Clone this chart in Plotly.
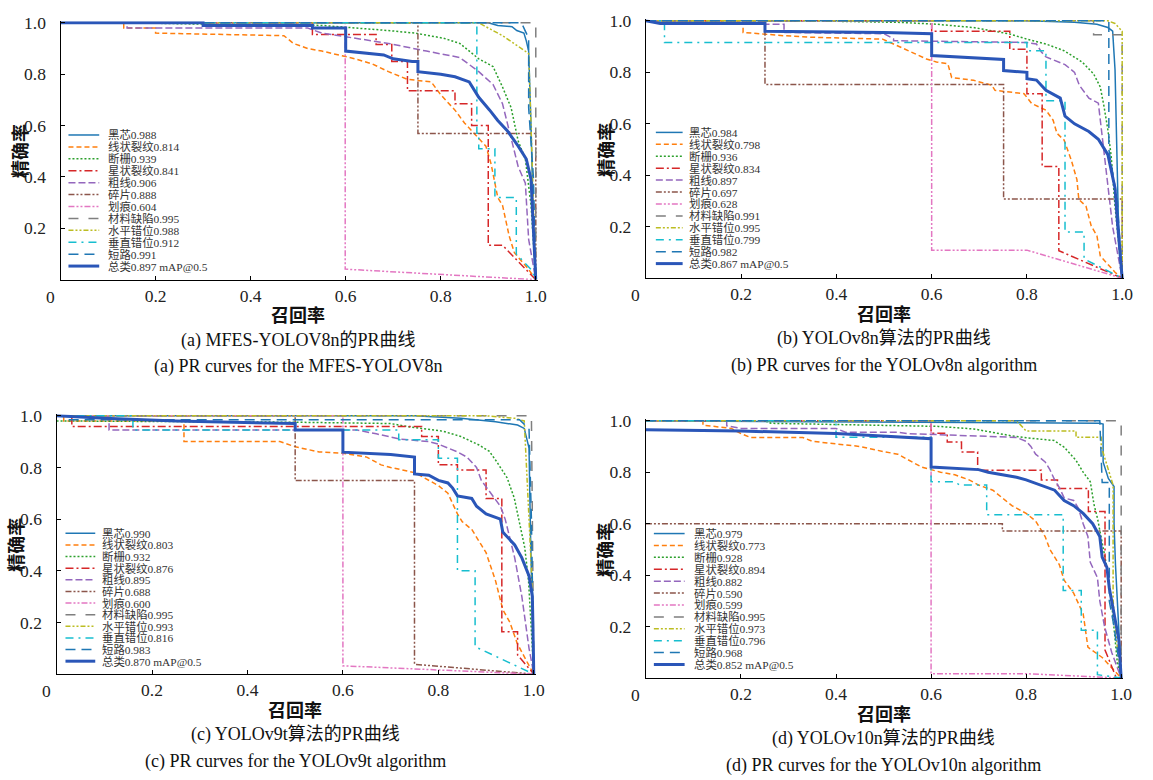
import plotly.graph_objects as go

W, H = 1153, 780

# ---------------- data ----------------
classes = ["黑芯", "线状裂纹", "断栅", "星状裂纹", "粗线", "碎片", "划痕",
           "材料缺陷", "水平错位", "垂直错位", "短路", "总类"]

ap_a = ["0.988", "0.814", "0.939", "0.841", "0.906", "0.888", "0.604", "0.995", "0.988", "0.912", "0.991", "0.897 mAP@0.5"]
ap_b = ["0.984", "0.798", "0.936", "0.834", "0.897", "0.697", "0.628", "0.991", "0.995", "0.799", "0.982", "0.867 mAP@0.5"]
ap_c = ["0.990", "0.803", "0.932", "0.876", "0.895", "0.688", "0.600", "0.995", "0.993", "0.816", "0.983", "0.870 mAP@0.5"]
ap_d = ["0.979", "0.773", "0.928", "0.894", "0.882", "0.590", "0.599", "0.995", "0.973", "0.796", "0.968", "0.852 mAP@0.5"]

recall_a = [
    [0, 0.9, 0.92, 0.95, 0.96, 0.975, 0.98, 0.985, 0.99, 0.995, 1.0],
    [0, 0.133, 0.133, 0.2, 0.2, 0.47, 0.49, 0.52, 0.55, 0.6, 0.62, 0.656, 0.69, 0.73, 0.78, 0.8, 0.83, 0.85, 0.87, 0.895, 0.906, 0.92, 0.93, 0.944, 0.955, 0.985, 1.0],
    [0, 0.15, 0.3, 0.55, 0.69, 0.746, 0.806, 0.84, 0.88, 0.91, 0.93, 0.948, 0.963, 0.978, 0.99, 1.0],
    [0, 0.53, 0.53, 0.664, 0.664, 0.697, 0.697, 0.73, 0.73, 0.83, 0.83, 0.865, 0.865, 0.9, 0.9, 0.93, 1.0],
    [0, 0.14, 0.14, 0.52, 0.55, 0.62, 0.69, 0.77, 0.84, 0.88, 0.91, 0.93, 0.948, 0.963, 0.978, 0.985, 1.0],
    [0, 0.752, 0.752, 1.0, 1.0],
    [0, 0.599, 0.599, 1.0],
    [0, 1.0, 1.0],
    [0, 0.88, 0.9, 0.93, 0.97, 0.985, 0.99, 0.995, 1.0],
    [0, 0.876, 0.876, 0.88, 0.88, 0.914, 0.914, 0.959, 0.959, 0.99, 1.0],
    [0, 0.97, 0.985, 0.985, 0.995, 1.0],
    [0, 0.3, 0.3, 0.53, 0.53, 0.6, 0.6, 0.68, 0.7, 0.74, 0.752, 0.752, 0.8, 0.83, 0.86, 0.88, 0.903, 0.92, 0.94, 0.963, 0.98, 0.99, 1.0],
]
precision_a = [
    [1, 1, 0.99, 0.985, 0.97, 0.96, 0.93, 0.89, 0.6, 0.2, 0],
    [1, 1, 0.98, 0.98, 0.96, 0.95, 0.92, 0.9, 0.89, 0.87, 0.86, 0.84, 0.81, 0.78, 0.77, 0.72, 0.66, 0.61, 0.57, 0.52, 0.45, 0.32, 0.29, 0.17, 0.105, 0.04, 0],
    [1, 1, 0.995, 0.99, 0.97, 0.96, 0.94, 0.92, 0.86, 0.83, 0.75, 0.67, 0.54, 0.47, 0.29, 0],
    [1, 1, 0.955, 0.955, 0.916, 0.916, 0.85, 0.85, 0.736, 0.736, 0.685, 0.685, 0.6, 0.6, 0.134, 0.134, 0],
    [1, 1, 0.98, 0.98, 0.96, 0.94, 0.92, 0.89, 0.865, 0.81, 0.76, 0.685, 0.556, 0.44, 0.376, 0.157, 0],
    [1, 1, 0.569, 0.569, 0],
    [1, 1, 0.041, 0],
    [1, 1, 0],
    [1, 1, 0.98, 0.95, 0.9, 0.88, 0.6, 0.3, 0],
    [1, 1, 0.57, 0.57, 0.51, 0.51, 0.32, 0.32, 0.1, 0.04, 0],
    [1, 1, 0.94, 0.67, 0.4, 0],
    [1, 1, 0.99, 0.99, 0.98, 0.98, 0.89, 0.875, 0.86, 0.85, 0.85, 0.81, 0.8, 0.79, 0.77, 0.71, 0.66, 0.62, 0.58, 0.52, 0.47, 0.39, 0],
]

recall_b = [
    [0, 0.8, 0.9, 0.947, 0.97, 0.98, 0.985, 0.989, 0.992, 1.0],
    [0, 0.204, 0.204, 0.292, 0.353, 0.497, 0.52, 0.55, 0.589, 0.61, 0.634, 0.642, 0.688, 0.726, 0.733, 0.794, 0.81, 0.84, 0.855, 0.863, 0.878, 0.893, 0.905, 0.909, 0.924, 0.935, 0.947, 0.954, 0.985, 1.0],
    [0, 0.35, 0.535, 0.61, 0.688, 0.764, 0.8, 0.84, 0.878, 0.916, 0.94, 0.954, 0.962, 0.97, 0.977, 0.985, 1.0],
    [0, 0.6, 0.6, 0.764, 0.764, 0.8, 0.8, 0.832, 0.832, 0.867, 0.867, 1.0],
    [0, 0.068, 0.068, 0.29, 0.29, 0.5, 0.52, 0.52, 0.8, 0.82, 0.83, 0.84, 0.88, 0.9, 0.91, 0.93, 0.95, 0.955, 0.965, 0.98, 1.0],
    [0, 0.25, 0.25, 0.751, 0.751, 1.0, 1.0],
    [0, 0.6, 0.6, 0.8, 1.0],
    [0, 0.94, 0.94, 1.0, 1.0],
    [0, 0.97, 0.985, 0.995, 1.0, 1.0],
    [0, 0.039, 0.039, 0.8, 0.8, 0.84, 0.84, 0.88, 0.88, 0.92, 0.92, 1.0],
    [0, 0.972, 0.972, 0.99, 1.0],
    [0, 0.03, 0.25, 0.25, 0.5, 0.58, 0.6, 0.6, 0.75, 0.751, 0.751, 0.8, 0.8, 0.82, 0.84, 0.87, 0.88, 0.9, 0.93, 0.95, 0.97, 0.98, 0.985, 0.99, 1.0],
]
precision_b = [
    [1, 1, 0.995, 0.987, 0.974, 0.96, 0.81, 0.47, 0.23, 0],
    [1, 1, 0.955, 0.942, 0.936, 0.929, 0.91, 0.884, 0.852, 0.84, 0.833, 0.78, 0.769, 0.75, 0.73, 0.717, 0.679, 0.653, 0.614, 0.563, 0.537, 0.46, 0.383, 0.306, 0.28, 0.203, 0.165, 0.087, 0.023, 0],
    [1, 1, 0.994, 0.987, 0.974, 0.949, 0.929, 0.91, 0.884, 0.84, 0.794, 0.743, 0.666, 0.576, 0.473, 0.28, 0],
    [1, 1, 0.96, 0.96, 0.89, 0.89, 0.717, 0.717, 0.434, 0.434, 0.107, 0],
    [1, 1, 0.987, 0.987, 0.955, 0.95, 0.93, 0.923, 0.916, 0.91, 0.88, 0.86, 0.83, 0.8, 0.75, 0.7, 0.68, 0.6, 0.45, 0.2, 0],
    [1, 1, 0.753, 0.753, 0.308, 0.308, 0],
    [1, 1, 0.109, 0.109, 0],
    [1, 1, 0.946, 0.946, 0],
    [1, 1, 0.99, 0.97, 0.96, 0],
    [1, 1, 0.916, 0.916, 0.884, 0.884, 0.69, 0.69, 0.18, 0.18, 0.075, 0],
    [1, 1, 0.5, 0.3, 0],
    [1, 0.99, 0.99, 0.96, 0.955, 0.95, 0.95, 0.865, 0.85, 0.85, 0.807, 0.8, 0.775, 0.77, 0.73, 0.7, 0.63, 0.6, 0.57, 0.54, 0.48, 0.4, 0.35, 0.22, 0],
]

recall_c = [
    [0, 0.75, 0.847, 0.92, 0.966, 0.98, 0.99, 0.993, 1.0],
    [0, 0.015, 0.015, 0.267, 0.267, 0.468, 0.5, 0.55, 0.6, 0.65, 0.68, 0.7, 0.75, 0.77, 0.8, 0.82, 0.84, 0.85, 0.87, 0.89, 0.9, 0.92, 0.935, 0.95, 0.965, 0.985, 1.0],
    [0, 0.5, 0.7, 0.736, 0.81, 0.847, 0.885, 0.907, 0.922, 0.944, 0.959, 0.97, 0.981, 0.989, 1.0],
    [0, 0.032, 0.032, 0.765, 0.765, 0.8, 0.8, 0.84, 0.84, 0.9, 0.9, 0.933, 0.933, 0.966, 0.966, 1.0],
    [0, 0.11, 0.11, 0.63, 0.67, 0.72, 0.78, 0.8, 0.84, 0.86, 0.88, 0.89, 0.91, 0.93, 0.94, 0.95, 0.96, 0.975, 0.99, 1.0],
    [0, 0.5, 0.5, 0.75, 0.75, 1.0],
    [0, 0.6, 0.6, 1.0],
    [0, 0.995, 1.0],
    [0, 0.9, 0.96, 0.98, 0.99, 0.995, 1.0],
    [0, 0.16, 0.16, 0.717, 0.717, 0.8, 0.8, 0.84, 0.84, 0.877, 0.877, 1.0],
    [0, 0.02, 0.02, 0.97, 0.99, 0.995, 1.0],
    [0, 0.1, 0.25, 0.45, 0.5, 0.5, 0.6, 0.6, 0.7, 0.75, 0.75, 0.78, 0.8, 0.82, 0.83, 0.84, 0.87, 0.88, 0.9, 0.93, 0.935, 0.96, 0.975, 0.99, 0.997, 1.0],
]
precision_c = [
    [1, 1, 0.99, 0.977, 0.964, 0.951, 0.875, 0.55, 0],
    [1, 1, 0.98, 0.98, 0.9, 0.9, 0.88, 0.86, 0.855, 0.84, 0.81, 0.8, 0.78, 0.76, 0.73, 0.7, 0.62, 0.59, 0.56, 0.5, 0.47, 0.36, 0.25, 0.2, 0.12, 0.05, 0],
    [0.98, 0.975, 0.97, 0.958, 0.94, 0.92, 0.887, 0.862, 0.823, 0.76, 0.682, 0.58, 0.49, 0.36, 0],
    [1, 1, 0.958, 0.958, 0.92, 0.92, 0.81, 0.81, 0.79, 0.79, 0.68, 0.68, 0.164, 0.164, 0.074, 0],
    [1, 1, 0.945, 0.945, 0.93, 0.91, 0.9, 0.89, 0.86, 0.84, 0.8, 0.75, 0.7, 0.65, 0.6, 0.52, 0.45, 0.3, 0.1, 0],
    [1, 1, 0.749, 0.749, 0.038, 0],
    [1, 1, 0.032, 0],
    [1, 1, 0],
    [1, 1, 0.99, 0.98, 0.6, 0.4, 0],
    [1, 1, 0.945, 0.945, 0.907, 0.907, 0.836, 0.836, 0.4, 0.4, 0.106, 0],
    [1, 1, 0.985, 0.985, 0.95, 0.6, 0],
    [1, 0.99, 0.98, 0.97, 0.97, 0.945, 0.945, 0.859, 0.85, 0.84, 0.775, 0.77, 0.75, 0.74, 0.72, 0.69, 0.68, 0.65, 0.62, 0.6, 0.55, 0.5, 0.45, 0.38, 0.3, 0],
]

recall_d = [
    [0, 0.955, 0.962, 0.962, 0.973, 0.985, 0.985, 0.988, 0.995, 1.0],
    [0, 0.12, 0.12, 0.18, 0.2, 0.22, 0.33, 0.35, 0.4, 0.45, 0.5, 0.53, 0.55, 0.58, 0.62, 0.65, 0.68, 0.7, 0.73, 0.75, 0.77, 0.8, 0.82, 0.84, 0.85, 0.87, 0.88, 0.9, 0.92, 0.93, 0.96, 1.0],
    [0, 0.25, 0.263, 0.615, 0.69, 0.767, 0.81, 0.859, 0.88, 0.905, 0.92, 0.935, 0.943, 0.95, 0.958, 0.969, 0.98, 0.992, 1.0],
    [0, 0.6, 0.6, 0.634, 0.634, 0.664, 0.664, 0.698, 0.698, 0.832, 0.832, 0.866, 0.866, 0.931, 0.931, 0.966, 0.966, 0.99],
    [0, 0.17, 0.17, 0.2, 0.4, 0.42, 0.53, 0.55, 0.63, 0.7, 0.78, 0.8, 0.81, 0.82, 0.84, 0.85, 0.86, 0.87, 0.88, 0.9, 0.91, 0.92, 0.93, 0.935, 0.95, 0.955, 0.965, 0.98, 1.0],
    [0, 0.75, 0.75, 1.0, 1.0],
    [0, 0.6, 0.6, 0.8, 1.0],
    [0, 1.0, 1.0],
    [0, 0.78, 0.8, 0.905, 0.905, 0.958, 0.958, 0.983, 0.983, 0.99, 1.0],
    [0, 0.4, 0.4, 0.6, 0.6, 0.65, 0.66, 0.717, 0.717, 0.878, 0.878, 0.916, 0.916, 0.95, 0.95, 1.0],
    [0, 0.955, 0.96, 0.975, 0.975, 0.985, 1.0],
    [0, 0.2, 0.4, 0.5, 0.6, 0.6, 0.7, 0.72, 0.78, 0.8, 0.83, 0.86, 0.88, 0.9, 0.92, 0.94, 0.955, 0.96, 0.97, 0.975, 0.985, 0.995, 1.0],
]
precision_d = [
    [1, 0.99, 0.987, 0.84, 0.776, 0.744, 0.6, 0.44, 0.19, 0],
    [1, 1, 0.983, 0.97, 0.95, 0.935, 0.935, 0.92, 0.91, 0.9, 0.88, 0.87, 0.85, 0.82, 0.8, 0.79, 0.77, 0.75, 0.73, 0.7, 0.67, 0.64, 0.61, 0.55, 0.5, 0.44, 0.38, 0.33, 0.25, 0.12, 0.08, 0],
    [1, 1, 0.99, 0.978, 0.968, 0.942, 0.932, 0.923, 0.897, 0.846, 0.8, 0.763, 0.673, 0.622, 0.545, 0.44, 0.288, 0.058, 0],
    [1, 1, 0.951, 0.951, 0.917, 0.917, 0.878, 0.878, 0.808, 0.808, 0.77, 0.77, 0.737, 0.737, 0.647, 0.647, 0.109, 0],
    [1, 1, 0.98, 0.97, 0.97, 0.955, 0.955, 0.95, 0.945, 0.94, 0.935, 0.92, 0.9, 0.87, 0.84, 0.81, 0.77, 0.74, 0.7, 0.69, 0.66, 0.6, 0.55, 0.45, 0.39, 0.3, 0.2, 0.1, 0],
    [0.6, 0.6, 0.571, 0.571, 0],
    [1, 1, 0.017, 0.017, 0],
    [1, 1, 0],
    [1, 1, 0.96, 0.96, 0.936, 0.936, 0.9, 0.75, 0.3, 0.15, 0],
    [1, 1, 0.936, 0.936, 0.763, 0.763, 0.75, 0.75, 0.635, 0.635, 0.34, 0.34, 0.186, 0.186, 0.013, 0],
    [1, 1, 0.76, 0.76, 0.3, 0.2, 0],
    [0.965, 0.96, 0.95, 0.94, 0.93, 0.82, 0.81, 0.8, 0.78, 0.77, 0.75, 0.73, 0.69, 0.67, 0.64, 0.6, 0.55, 0.47, 0.43, 0.35, 0.25, 0.15, 0],
]

tick_vals = [0, 0.2, 0.4, 0.6, 0.8, 1.0]
x_tick_text = ["", "0.2", "0.4", "0.6", "0.8", "1.0"]
y_tick_vals = [0.2, 0.4, 0.6, 0.8, 1.0]
y_tick_text = ["0.2", "0.4", "0.6", "0.8", "1.0"]

captions_cn = ["(a) MFES-YOLOV8n的PR曲线", "(b) YOLOv8n算法的PR曲线",
               "(c) YOLOv9t算法的PR曲线", "(d) YOLOv10n算法的PR曲线"]
captions_en = ["(a) PR curves for the MFES-YOLOV8n", "(b) PR curves for the YOLOv8n algorithm",
               "(c) PR curves for the YOLOv9t algorithm", "(d) PR curves for the YOLOv10n algorithm"]

# ---------------- styles ----------------
colors = ["#1f77b4", "#ff7f0e", "#2ca02c", "#d62728", "#9467bd", "#8c564b",
          "#e377c2", "#7f7f7f", "#bcbd22", "#17becf", "#1f77b4", "#2a56b8"]
dashes = ["solid", "5px,3px", "2px,2px", "8px,3px,2px,3px", "7px,3px",
          "6px,2px,2px,2px,2px,2px", "6px,2px,2px,2px,2px,2px", "10px,10px",
          "5px,2px,2px,2px,2px,2px", "8px,5px,2px,5px", "10px,6px", "solid"]
widths = [1.5] * 11 + [3]

SERIF = "Liberation Serif, Times New Roman, Noto Sans CJK SC, serif"
CJK = "Noto Sans CJK SC, sans-serif"

# panel geometry in pixels: x of recall 0 / 1, y of precision 1 / 0
panels = [
    dict(x0=61, x1=540, yt=15, yb=274.5, lx0=69, lx1=100, tx=107, ly0=128.3, ldy=12.04),
    dict(x0=651, x1=1131, yt=13, yb=273, lx0=661, lx1=688, tx=692, ly0=125.7, ldy=12.05),
    dict(x0=57, x1=538, yt=412, yb=673, lx0=66, lx1=96, tx=101, ly0=530.7, ldy=11.75),
    dict(x0=651, x1=1130, yt=417, yb=677, lx0=659, lx1=690, tx=697, ly0=531, ldy=12.03),
]
recalls = [recall_a, recall_b, recall_c, recall_d]
precisions = [precision_a, precision_b, precision_c, precision_d]
aps = [ap_a, ap_b, ap_c, ap_d]

XMAX, YMAX = 1.004, 1.006
LEG_FS = 11.4


def px(x):
    return x / W


def py(y):
    return 1 - y / H


fig = go.Figure()
annotations = []
shapes = []
layout = {}

for k, pn in enumerate(panels):
    idx = "" if k == 0 else str(k + 1)
    xa, ya = "x" + idx, "y" + idx
    for i in range(12):
        fig.add_trace(go.Scatter(
            x=recalls[k][i], y=precisions[k][i], mode="lines",
            line=dict(color=colors[i], width=widths[i], dash=dashes[i]),
            xaxis=xa, yaxis=ya, showlegend=False, hoverinfo="skip"))
    xr = pn["x0"] + (pn["x1"] - pn["x0"]) * XMAX
    yr = pn["yb"] - (pn["yb"] - pn["yt"]) * YMAX
    axis_common = dict(showline=True, linecolor="black", linewidth=1.2, ticks="inside",
                       ticklen=4, tickcolor="black", tickwidth=1, showgrid=False,
                       zeroline=False, mirror=False,
                       tickfont=dict(family=SERIF, size=17.5, color="#222"))
    layout["xaxis" + idx] = dict(axis_common, domain=[px(pn["x0"]), px(xr)], range=[0, XMAX],
                                 anchor=ya, tickvals=tick_vals, ticktext=x_tick_text)
    layout["yaxis" + idx] = dict(axis_common, domain=[py(pn["yb"]), py(yr)], range=[0, YMAX],
                                 anchor=xa, tickvals=y_tick_vals, ticktext=y_tick_text,
                                 ticklabelstandoff=10)
    cx = (pn["x0"] + pn["x1"]) / 2
    off = pn["yb"] - 274.5
    annotations.append(dict(x=px(pn["x0"] - 10), y=py(pn["yb"] + 17), xref="paper", yref="paper",
                            text="0", showarrow=False, font=dict(family=SERIF, size=17.5, color="#222"),
                            xanchor="center", yanchor="middle"))
    annotations.append(dict(x=px(cx), y=py(309.5 + off), xref="paper", yref="paper", text="召回率",
                            showarrow=False, font=dict(family=CJK, size=18, color="#111", weight="bold"),
                            xanchor="center", yanchor="middle"))
    annotations.append(dict(x=px(pn["x0"] - 42), y=py((pn["yt"] + pn["yb"]) / 2), xref="paper",
                            yref="paper", text="精确率", textangle=-90, showarrow=False,
                            font=dict(family=CJK, size=18, color="#111", weight="bold"),
                            xanchor="center", yanchor="middle"))
    annotations.append(dict(x=px(cx), y=py(335.5 + off), xref="paper", yref="paper",
                            text=captions_cn[k], showarrow=False,
                            font=dict(family=SERIF, size=18, color="#111"),
                            xanchor="center", yanchor="middle"))
    annotations.append(dict(x=px(cx), y=py(362.5 + off), xref="paper", yref="paper",
                            text=captions_en[k], showarrow=False,
                            font=dict(family=SERIF, size=18, color="#111"),
                            xanchor="center", yanchor="middle"))
    for i in range(12):
        yy = pn["ly0"] + i * pn["ldy"]
        shapes.append(dict(type="line", xref="paper", yref="paper",
                           x0=px(pn["lx0"]), x1=px(pn["lx1"]), y0=py(yy), y1=py(yy),
                           line=dict(color=colors[i], width=widths[i], dash=dashes[i])))
        annotations.append(dict(x=px(pn["tx"]), y=py(yy), xref="paper", yref="paper",
                                text=classes[i] + aps[k][i], showarrow=False,
                                font=dict(family=SERIF, size=LEG_FS, color="#333"),
                                xanchor="left", yanchor="middle"))

fig.update_layout(
    width=W, height=H, margin=dict(l=0, r=0, t=0, b=0),
    paper_bgcolor="white", plot_bgcolor="white",
    annotations=annotations, shapes=shapes, showlegend=False,
    **layout,
)

fig.write_html("out.html", config={"displayModeBar": False},
               post_script="document.body.style.margin='0';")
